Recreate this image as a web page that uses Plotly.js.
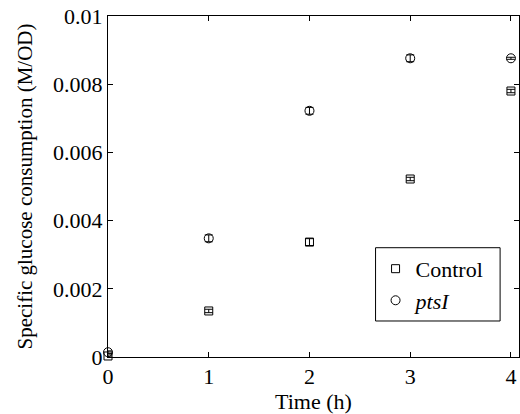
<!DOCTYPE html>
<html>
<head>
<meta charset="utf-8">
<script src="https://cdn.plot.ly/plotly-3.0.1.min.js"></script>
<style>html,body{margin:0;padding:0;background:#fff}#chart{width:520px;height:414px}</style>
</head>
<body>
<div id="chart"></div>
<script>
const time = [0, 1, 2, 3, 4];
const controlValues = [0.00003, 0.00135, 0.00337, 0.00522, 0.0078];
const controlErr = [0.00003, 0.00005, 0.0001, 0.00005, 0.00005];
const ptsIValues = [0.00014, 0.00348, 0.00722, 0.00876, 0.00876];
const ptsIErr = [0.00004, 0.0001, 0.0001, 0.0001, 0.00003];
const yTickVals = [0, 0.002, 0.004, 0.006, 0.008, 0.01];
const yTickText = ['0', '0.002', '0.004', '0.006', '0.008', '0.01'];
const xTickVals = [0, 1, 2, 3, 4];
const xTickText = ['0', '1', '2', '3', '4'];

const font = 'Liberation Serif';
const traces = [
  {x: time, y: controlValues, name: 'Control', type: 'scatter', mode: 'markers',
   marker: {symbol: 'square-open', size: 8, color: '#000', line: {width: 1, color: '#000'}},
   error_y: {type: 'data', array: controlErr, visible: true, color: '#000', thickness: 1, width: 4},
   cliponaxis: false},
  {x: time, y: ptsIValues, name: '<i>ptsI</i>', type: 'scatter', mode: 'markers',
   marker: {symbol: 'circle-open', size: 9, color: '#000', line: {width: 1, color: '#000'}},
   error_y: {type: 'data', array: ptsIErr, visible: true, color: '#000', thickness: 1, width: 4},
   cliponaxis: false}
];
const axisCommon = {showgrid: false, zeroline: false, showline: true, linecolor: '#000', linewidth: 1,
  mirror: 'ticks', ticks: 'inside', ticklen: 5, tickcolor: '#000', tickfont: {family: font, size: 22, color: '#000'}};
const layout = {
  width: 520, height: 414,
  margin: {l: 108, r: 1, t: 16, b: 57},
  paper_bgcolor: '#fff', plot_bgcolor: '#fff',
  showlegend: true,
  font: {family: font, color: '#000', size: 20},
  xaxis: Object.assign({}, axisCommon, {range: [0, 4.08], tickmode: 'array', tickvals: xTickVals, ticktext: xTickText,
    title: {text: 'Time (h)', font: {family: font, size: 22, color: '#000'}, standoff: 4}}),
  yaxis: Object.assign({}, axisCommon, {range: [0, 0.01], tickmode: 'array', tickvals: yTickVals, ticktext: yTickText,
    title: {text: 'Specific glucose consumption (M/OD)', font: {family: font, size: 21, color: '#000'}, standoff: 14}}),
  legend: {x: 0.651, y: 0.32, xanchor: 'left', yanchor: 'top', borderwidth: 0,
    bgcolor: 'rgba(0,0,0,0)', font: {family: font, size: 22, color: '#000'}, itemwidth: 30, tracegroupgap: 4},
  shapes: [{type: 'rect', xref: 'paper', yref: 'paper', x0: 0.651, x1: 0.954, y0: 0.1056, y1: 0.3205,
    line: {color: '#000', width: 1}, fillcolor: 'rgba(0,0,0,0)', layer: 'above'}]
};
Plotly.newPlot('chart', traces, layout, {displayModeBar: false, staticPlot: true});
</script>
</body>
</html>
